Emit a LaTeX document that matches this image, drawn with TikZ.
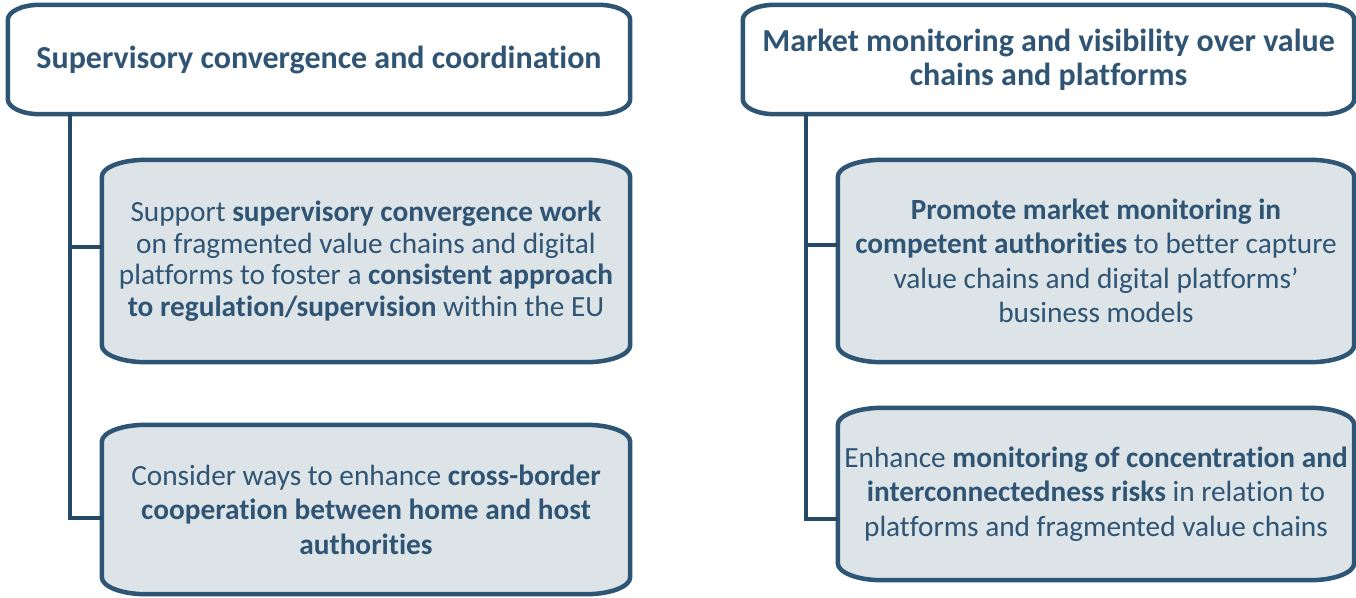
\documentclass[tikz,border=0pt]{standalone}
\usepackage{fontspec}
\setmainfont[Ligatures=NoCommon]{Carlito}
\usepackage{tikz}
\usetikzlibrary{positioning,calc,backgrounds}

\definecolor{edge}{HTML}{2E5574}
\definecolor{trunk}{HTML}{264A66}
\definecolor{ink}{HTML}{2F5474}
\definecolor{pale}{HTML}{DCE4E8}

% outline with flat elliptic corners drawn round a node
\newcommand{\ellbox}[4][]{%
  \draw[#1] ($(#2.north west)+(#3,0)$) -- ($(#2.north east)+(-#3,0)$)
    arc[start angle=90, end angle=0, x radius=#3, y radius=#4]
    -- ($(#2.south east)+(0,#4)$)
    arc[start angle=0, end angle=-90, x radius=#3, y radius=#4]
    -- ($(#2.south west)+(#3,0)$)
    arc[start angle=270, end angle=180, x radius=#3, y radius=#4]
    -- ($(#2.north west)+(0,-#4)$)
    arc[start angle=180, end angle=90, x radius=#3, y radius=#4]
    -- cycle;}

\begin{document}
\begin{tikzpicture}[
    x=1pt, y=-1pt,
    head/.style={minimum height=109, inner sep=0pt, align=center, text=ink, font=\fontsize{32}{34}\selectfont\bfseries},
    item/.style={minimum width=528, inner sep=0pt, align=center, text=ink, font=\fontsize{29.3}{34.5}\selectfont},
    line/.style={line width=4.5pt, draw=edge},
    link/.style={line width=4.5pt, draw=trunk}
]
    \useasboundingbox (0,0) rectangle (1356,597);

    % Supervisory column
    \node[head, minimum width=622] (conv) at (319,59.5) {Supervisory convergence and coordination};
    \node[item, minimum height=202, font=\fontsize{29.3}{31.5}\selectfont] (convwork) at (366,261)
        {Support \textbf{supervisory convergence work}\\
         on fragmented value chains and digital\\
         platforms to foster a \textbf{consistent approach}\\
         \textbf{to regulation/supervision} within the EU};
    \node[item, minimum height=169] (crossb) at (366,509.5)
        {Consider ways to enhance \textbf{cross-border}\\
         \textbf{cooperation between home and host}\\
         \textbf{authorities}};

    % Market monitoring column
    \node[head, minimum width=611] (monit) at (1048.5,59.5)
        {Market monitoring and visibility over value\\ chains and platforms};
    \node[item, minimum width=516, minimum height=202] (promote) at (1096,261)
        {\textbf{Promote market monitoring in}\\
         \textbf{competent authorities} to better capture\\
         value chains and digital platforms’\\
         business models};
    \node[item, minimum width=516, minimum height=172] (concen) at (1096,494)
        {Enhance \textbf{monitoring of concentration and}\\
         \textbf{interconnectedness risks} in relation to\\
         platforms and fragmented value chains};

    % Box outlines
    \begin{scope}[on background layer]
        \ellbox[line, fill=white]{conv}{32pt}{15pt}
        \ellbox[line, fill=white]{monit}{32pt}{15pt}
        \ellbox[line, fill=pale]{convwork}{44pt}{17pt}
        \ellbox[line, fill=pale]{crossb}{44pt}{17pt}
        \ellbox[line, fill=pale]{promote}{44pt}{17pt}
        \ellbox[line, fill=pale]{concen}{44pt}{17pt}
    \end{scope}

    % Trunks
    \coordinate (convroot) at ($(conv.south west)+(62pt,0)$);
    \coordinate (monitroot) at ($(monit.south west)+(63pt,0)$);
    \draw[link] (convroot) |- ($(convwork.west)+(0,14pt)$);
    \draw[link] (convroot) |- ($(crossb.west)+(0,-8.5pt)$);
    \draw[link] (monitroot) |- ($(promote.west)+(0,16pt)$);
    \draw[link] (monitroot) |- ($(concen.west)+(0,-25pt)$);
\end{tikzpicture}
\end{document}
